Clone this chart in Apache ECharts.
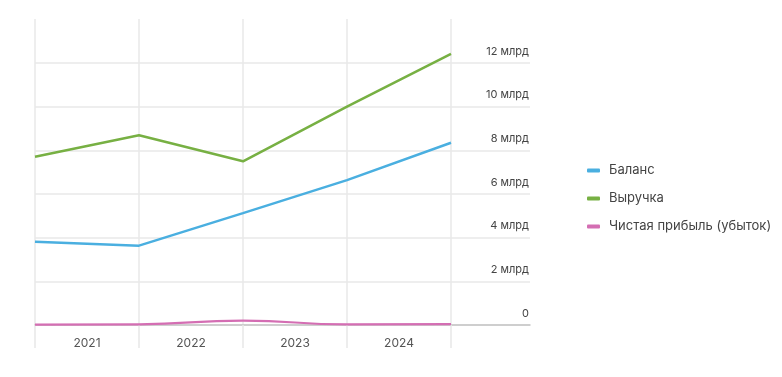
<!DOCTYPE html>
<html><head><meta charset="utf-8">
<script src="https://cdn.jsdelivr.net/npm/echarts@6/dist/echarts.min.js"></script>
<style>html,body{margin:0;padding:0;background:#fff}#c{width:782px;height:377px}</style>
</head><body><div id="c"></div>
<script>
var points = ['p0', 'p1', 'p2', 'p3', 'p4'];
var yearLabels = ['2021', '2022', '2023', '2024'];
var balance = [3.81, 3.63, 5.12, 6.63, 8.34];
var revenue = [7.70, 8.68, 7.49, 9.99, 12.40];
var profit = [0.02, 0.03, 0.2, 0.03, 0.04];
var yTicks = [0, 2, 4, 6, 8, 10, 12];
var plotMax = 14;

var font = 'Inter, "Noto Sans", sans-serif';
var gridColor = '#e8e8e8';
var chart = echarts.init(document.getElementById('c'));
chart.setOption({
  animation: false,
  textStyle: { fontFamily: font },
  legend: {
    orient: 'vertical', left: 582, top: 159,
    icon: 'roundRect', itemWidth: 13, itemHeight: 4, itemGap: 15,
    textStyle: { fontSize: 13, color: '#444', fontFamily: font, padding: [0, 0, 0, 4] },
    data: ['Баланс', 'Выручка', 'Чистая прибыль (убыток)']
  },
  grid: [
    { left: 35, right: 331, top: 19, bottom: 52 },
    { left: 35, right: 252, top: 63, bottom: 52 }
  ],
  xAxis: [
    { type: 'category', gridIndex: 0, data: points, boundaryGap: false,
      axisLine: { show: false }, axisLabel: { show: false },
      axisTick: { show: true, length: 23, inside: false, lineStyle: { color: gridColor, width: 1.5 } },
      splitLine: { show: true, lineStyle: { color: gridColor, width: 1.5 } } },
    { type: 'category', gridIndex: 0, data: yearLabels, boundaryGap: true, position: 'bottom',
      axisLine: { show: false }, axisTick: { show: false }, splitLine: { show: false },
      axisLabel: { margin: 12, fontSize: 12, color: '#555', fontFamily: font } },
    { type: 'value', gridIndex: 1, min: 0, max: 1,
      axisLine: { show: true, lineStyle: { color: '#c4c4c4', width: 1.5 } },
      axisTick: { show: false }, axisLabel: { show: false }, splitLine: { show: false } }
  ],
  yAxis: [
    { type: 'value', gridIndex: 0, min: 0, max: plotMax, interval: 2, show: false },
    { type: 'value', gridIndex: 1, position: 'right', min: yTicks[0], max: yTicks[yTicks.length - 1], interval: 2,
      axisLine: { show: false }, axisTick: { show: false },
      splitLine: { show: true, lineStyle: { color: gridColor, width: 1.5 } },
      axisLabel: { inside: true, margin: 1, fontSize: 11, color: '#444', align: 'right',
        verticalAlign: 'bottom', padding: [0, 0, 6, 0], fontFamily: font,
        formatter: function (v) { return v === 0 ? '0' : v + ' млрд'; } } }
  ],
  series: [
    { name: 'Баланс', type: 'line', xAxisIndex: 0, yAxisIndex: 0, data: balance,
      showSymbol: false, lineStyle: { width: 2.5, color: '#4aafe0' }, itemStyle: { color: '#4aafe0' } },
    { name: 'Выручка', type: 'line', xAxisIndex: 0, yAxisIndex: 0, data: revenue,
      showSymbol: false, lineStyle: { width: 2.5, color: '#77b043' }, itemStyle: { color: '#77b043' } },
    { name: 'Чистая прибыль (убыток)', type: 'line', xAxisIndex: 0, yAxisIndex: 0, data: profit, smooth: true,
      showSymbol: false, lineStyle: { width: 2.2, color: '#d46eb3' }, itemStyle: { color: '#d46eb3' } }
  ]
});
</script></body></html>
